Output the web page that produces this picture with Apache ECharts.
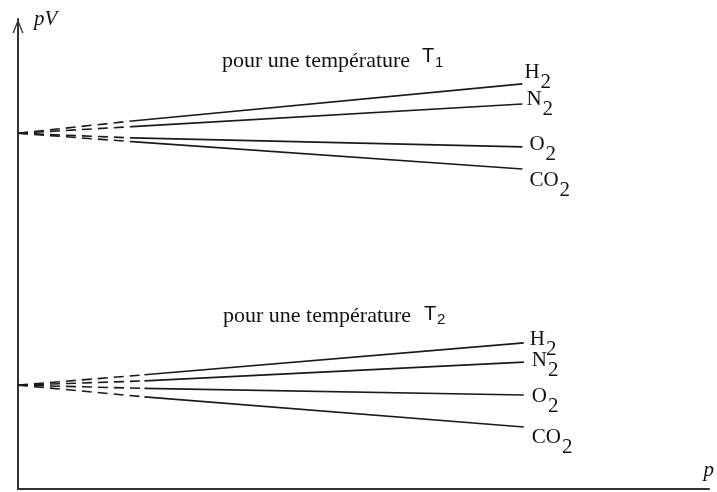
<!DOCTYPE html>
<html>
<head>
<meta charset="utf-8">
<script src="https://cdn.jsdelivr.net/npm/echarts@6/dist/echarts.min.js"></script>
<style>html,body{margin:0;padding:0;background:#fff;}#c{width:717px;height:492px;}</style>
</head>
<body>
<div id="c"></div>
<script>
// pressure positions (arbitrary units): start, end of dashed extrapolation, end of measured line
const pressureT1 = [0, 16.5, 73.0];
const pressureT2 = [0, 18.3, 73.2];
const gases = ['H2', 'N2', 'O2', 'CO2'];
// pV values (arbitrary units) at those pressures
const pvT1_H2 = [75.7, 78.3, 86.2];
const pvT1_N2 = [75.7, 77.1, 81.9];
const pvT1_O2 = [75.7, 74.7, 72.8];
const pvT1_CO2 = [75.7, 73.9, 68.1];
const pvT2_H2 = [22.1, 24.3, 31.1];
const pvT2_N2 = [22.1, 23.0, 27.0];
const pvT2_O2 = [22.1, 21.4, 20.0];
const pvT2_CO2 = [22.1, 19.6, 13.2];
const axisNames = { x: 'p', y: 'pV' };
const tempLabel = 'pour une température';

const groups = [
  { p: pressureT1, vals: [pvT1_H2, pvT1_N2, pvT1_O2, pvT1_CO2],
    offs: [[2, -6], [4, 0], [7, 3], [7, 17]] },
  { p: pressureT2, vals: [pvT2_H2, pvT2_N2, pvT2_O2, pvT2_CO2],
    offs: [[6, 2], [8, 3], [8, 6], [8, 16]] }
];

const lineColor = '#1a1a1a';
const series = [];
groups.forEach(function (g) {
  g.vals.forEach(function (v, i) {
    const pts = g.p.map(function (p, k) { return [p, v[k]]; });
    series.push({
      type: 'line', symbol: 'none', silent: true,
      data: pts.slice(0, 2),
      lineStyle: { color: lineColor, width: 1.6, type: [10, 6] }
    });
    const name = gases[i];
    series.push({
      type: 'line', symbol: 'none', silent: true,
      data: pts.slice(1, 3),
      lineStyle: { color: lineColor, width: 1.6, type: 'solid' },
      endLabel: {
        show: true,
        distance: 0,
        offset: g.offs[i],
        formatter: '{a|' + name.slice(0, -1) + '}{b|' + name.slice(-1) + '}',
        rich: {
          a: { fontFamily: 'Liberation Serif', fontSize: 21, color: '#111', verticalAlign: 'top' },
          b: { fontFamily: 'Liberation Serif', fontSize: 21, color: '#111', padding: [10, 0, 0, 1] }
        }
      }
    });
  });
});

const chevron = 'path://M5.5,0 L5.5,0 M0,28 L5.5,14 L11,28 L9.6,28 L5.5,17.4 L1.4,28 Z';

const option = {
  animation: false,
  backgroundColor: '#fff',
  grid: { left: 18, right: 0, top: 19, bottom: 3 },
  xAxis: {
    type: 'value', min: 0, max: 100,
    name: axisNames.x, nameLocation: 'end', nameGap: 0,
    nameTextStyle: { fontFamily: 'Liberation Serif', fontStyle: 'italic', fontSize: 21, color: '#111',
      align: 'right', verticalAlign: 'bottom', padding: [0, -5, 8, 0] },
    axisLine: { show: true, lineStyle: { color: '#333', width: 2 } },
    axisTick: { show: false }, axisLabel: { show: false }, splitLine: { show: false }
  },
  yAxis: {
    type: 'value', min: 0, max: 100,
    name: axisNames.y, nameLocation: 'end', nameGap: 0,
    nameTextStyle: { fontFamily: 'Liberation Serif', fontStyle: 'italic', fontSize: 21, color: '#111',
      align: 'left', verticalAlign: 'middle', padding: [0, 0, 0, 16] },
    axisLine: { show: true, symbol: ['none', chevron], symbolSize: [11, 28],
      lineStyle: { color: '#333', width: 2 } },
    axisTick: { show: false }, axisLabel: { show: false }, splitLine: { show: false }
  },
  graphic: [
    { type: 'text', left: 222, top: 50, style: { text: tempLabel, fontFamily: 'Liberation Serif', fontSize: 22, fill: '#111' } },
    { type: 'text', left: 422, top: 46, style: { text: 'T', fontFamily: 'Liberation Sans', fontSize: 20, fill: '#111' } },
    { type: 'text', left: 435, top: 55, style: { text: '1', fontFamily: 'Liberation Sans', fontSize: 15, fill: '#111' } },
    { type: 'text', left: 223, top: 305, style: { text: tempLabel, fontFamily: 'Liberation Serif', fontSize: 22, fill: '#111' } },
    { type: 'text', left: 424, top: 304, style: { text: 'T', fontFamily: 'Liberation Sans', fontSize: 20, fill: '#111' } },
    { type: 'text', left: 437, top: 312, style: { text: '2', fontFamily: 'Liberation Sans', fontSize: 15, fill: '#111' } }
  ],
  series: series
};
const chart = echarts.init(document.getElementById('c'), null, { renderer: 'canvas' });
chart.setOption(option);
</script>
</body>
</html>
